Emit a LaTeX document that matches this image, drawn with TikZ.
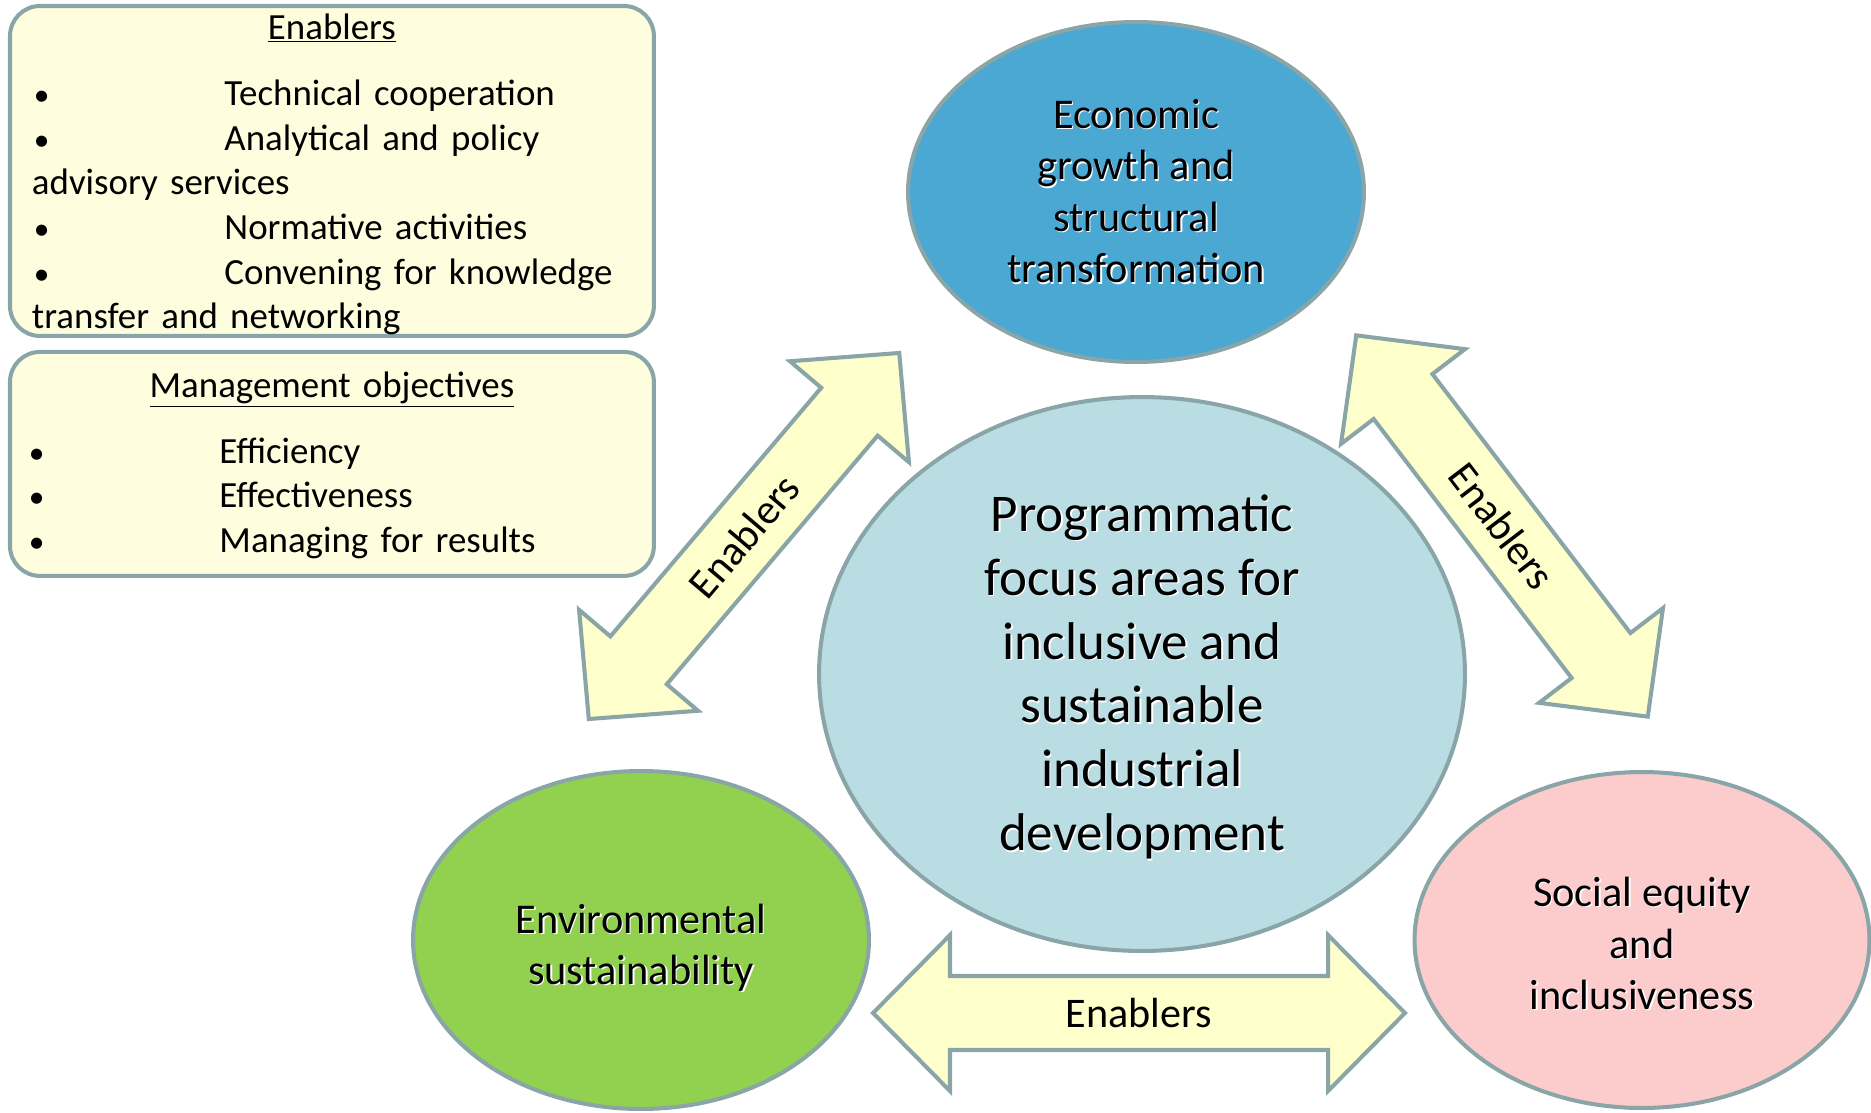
\documentclass[tikz,border=0pt]{standalone}
\usepackage{fontspec}
\setmainfont{Carlito}
\usepackage{tikz}
\usetikzlibrary{shapes.geometric, positioning}

\definecolor{rimgrey}{RGB}{137,165,168}
\definecolor{econblue}{RGB}{74,168,211}
\definecolor{coreblue}{RGB}{186,221,227}
\definecolor{envgreen}{RGB}{146,208,80}
\definecolor{socpink}{RGB}{252,204,204}
\definecolor{arrowyellow}{RGB}{255,255,204}
\definecolor{boxyellow}{RGB}{254,254,222}

\newcommand{\glow}[1]{\makebox[0pt][l]{\kern0.8pt\raisebox{-0.8pt}{\color{white}#1}}#1}
\newcommand{\bul}{\makebox[3.85cm][l]{\kern1pt\scalebox{0.85}{\textbullet}}}

\tikzset{
  area/.style={ellipse, draw=rimgrey, line width=2.3pt, inner sep=0pt, align=center},
  listbox/.style={draw=rimgrey, fill=boxyellow, line width=2.3pt, rounded corners=0.6cm,
        outer sep=0pt, inner ysep=0pt, minimum width=12.88cm, align=left,
        font=\fontsize{21}{25.4}\selectfont},
  arrowbody/.style={draw=rimgrey, fill=arrowyellow, line width=2.3pt},
  arrowlabel/.style={inner sep=0pt, font=\fontsize{24}{29}\selectfont}
}

\newcommand{\enablerarrow}[4]{%
  \begin{scope}[shift={#2}, rotate=#3]
    \draw[arrowbody] ({-#4},0) -- ({-#4+77},78) -- ({-#4+77},37) -- ({#4-77},37)
      -- ({#4-77},78) -- ({#4},0) -- ({#4-77},-78) -- ({#4-77},-37)
      -- ({-#4+77},-37) -- ({-#4+77},-78) -- cycle;
    \node[arrowlabel, rotate=#3] (#1) at (0,0) {Enablers};
  \end{scope}}

\begin{document}
\begin{tikzpicture}[x=0.02cm, y=-0.02cm]
  \useasboundingbox (0,0) rectangle (1871,1112);

  \node[listbox, anchor=north west, minimum height=6.6cm, inner xsep=0.44cm, text width=12cm]
       (enablersbox) at (10,6)
       {\hfil\rule{0pt}{18.3pt}\underline{Enablers}\hfil\\[12.5pt]
        \bul Technical cooperation\\
        \bul Analytical and policy\\
        advisory services\\
        \bul Normative activities\\
        \bul Convening for knowledge\\
        transfer and networking};
  \node[listbox, below=0.32cm of enablersbox, minimum height=4.48cm, inner xsep=0.34cm, text width=12.2cm]
       (mgmtbox)
       {\hfil\rule{0pt}{16.2pt}\underline{Management objectives}\hfil\\[12pt]
        \bul Efficiency\\
        \bul Effectiveness\\
        \bul Managing for results};

  \enablerarrow{enabwest}{(744,536)}{49.7}{240}
  \enablerarrow{enabeast}{(1502,526)}{-52.6}{240}
  \enablerarrow{enabsouth}{(1139,1013)}{0}{266}

  \node[area, fill=coreblue, minimum width=12.92cm, minimum height=11.08cm,
        font=\fontsize{30.2}{36.4}\selectfont] (focus) at (1142,674)
       {\rule{0pt}{25pt}\glow{Programmatic}\\\glow{focus areas for}\\\glow{inclusive and}\\
        \glow{sustainable}\\\glow{industrial}\\\glow{development}};
  \node[area, fill=econblue, minimum width=9.12cm, minimum height=6.8cm,
        font=\fontsize{24.1}{29.3}\selectfont] (econ) at (1136,192)
       {\glow{Economic}\\\glow{growth and}\\\glow{structural}\\\glow{transformation}};
  \node[area, fill=envgreen, minimum width=9.12cm, minimum height=6.76cm,
        font=\fontsize{24.1}{29.3}\selectfont] (env) at (641,940)
       {\rule{0pt}{26pt}\glow{Environmental}\\\glow{sustainability}};
  \node[area, fill=socpink, minimum width=9.1cm, minimum height=6.72cm,
        font=\fontsize{24.1}{29.3}\selectfont] (social) at (1642,940)
       {\rule{0pt}{21.5pt}\glow{Social equity}\\\glow{and}\\\glow{inclusiveness}};
\end{tikzpicture}
\end{document}
